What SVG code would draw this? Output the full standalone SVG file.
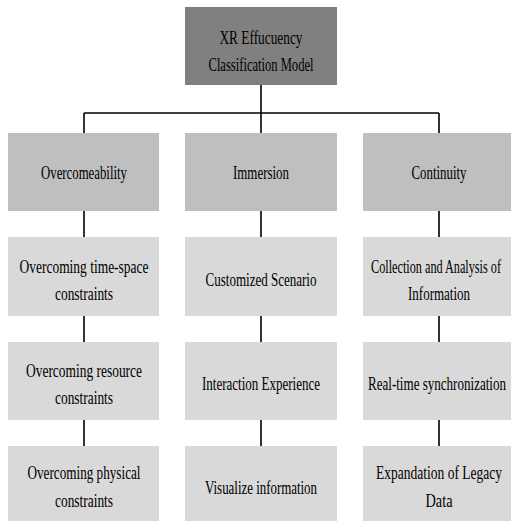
<svg xmlns="http://www.w3.org/2000/svg" width="511" height="521" viewBox="0 0 511 521">
  <style>
    .root { fill: #808080; }
    .cat { fill: #bfbfbf; }
    .item { fill: #d9d9d9; }
    text { font-family: "Liberation Serif", "Times New Roman", serif; font-size: 19.5px; fill: #000; text-anchor: middle; }
    .link { stroke: #000; stroke-width: 1.6; fill: none; }
  </style>
  <rect width="511" height="521" fill="#fff"/>

  <g id="connectors">
    <path class="link" d="M261 85 V133"/>
    <path class="link" d="M84 113 H439"/>
    <path class="link" d="M84 113 V133 M439 113 V133"/>
    <path class="link" d="M84 211 V237 M84 316 V342 M84 420 V446"/>
    <path class="link" d="M261 211 V237 M261 316 V342 M261 420 V446"/>
    <path class="link" d="M439 211 V237 M439 316 V342 M439 420 V446"/>
  </g>

  <g id="root">
    <rect class="root" x="185" y="7" width="152" height="78"/>
    <text x="261" y="44" textLength="83" lengthAdjust="spacingAndGlyphs">XR Effucuency</text>
    <text x="261" y="71" textLength="105" lengthAdjust="spacingAndGlyphs">Classification Model</text>
  </g>

  <g id="overcomeability">
    <rect class="cat" x="8" y="133" width="151" height="78"/>
    <text x="84" y="179" textLength="86" lengthAdjust="spacingAndGlyphs">Overcomeability</text>
  </g>
  <g id="immersion">
    <rect class="cat" x="185" y="133" width="152" height="78"/>
    <text x="261" y="179" textLength="56" lengthAdjust="spacingAndGlyphs">Immersion</text>
  </g>
  <g id="continuity">
    <rect class="cat" x="363" y="133" width="148" height="78"/>
    <text x="439" y="179" textLength="55" lengthAdjust="spacingAndGlyphs">Continuity</text>
  </g>

  <g id="time-space">
    <rect class="item" x="8" y="237" width="151" height="79"/>
    <text x="84" y="273" textLength="129" lengthAdjust="spacingAndGlyphs">Overcoming time-space</text>
    <text x="84" y="300" textLength="58" lengthAdjust="spacingAndGlyphs">constraints</text>
  </g>
  <g id="resource">
    <rect class="item" x="8" y="342" width="151" height="78"/>
    <text x="84" y="377" textLength="116" lengthAdjust="spacingAndGlyphs">Overcoming resource</text>
    <text x="84" y="404" textLength="58" lengthAdjust="spacingAndGlyphs">constraints</text>
  </g>
  <g id="physical">
    <rect class="item" x="8" y="446" width="151" height="80"/>
    <text x="84" y="479" textLength="113" lengthAdjust="spacingAndGlyphs">Overcoming physical</text>
    <text x="84" y="507" textLength="58" lengthAdjust="spacingAndGlyphs">constraints</text>
  </g>

  <g id="scenario">
    <rect class="item" x="185" y="237" width="152" height="79"/>
    <text x="261" y="286" textLength="111" lengthAdjust="spacingAndGlyphs">Customized Scenario</text>
  </g>
  <g id="interaction">
    <rect class="item" x="185" y="342" width="152" height="78"/>
    <text x="261" y="390" textLength="118" lengthAdjust="spacingAndGlyphs">Interaction Experience</text>
  </g>
  <g id="visualize">
    <rect class="item" x="185" y="446" width="152" height="80"/>
    <text x="261" y="494" textLength="112" lengthAdjust="spacingAndGlyphs">Visualize information</text>
  </g>

  <g id="collection">
    <rect class="item" x="363" y="237" width="148" height="79"/>
    <text x="436" y="273" textLength="130" lengthAdjust="spacingAndGlyphs">Collection and Analysis of</text>
    <text x="439" y="300" textLength="62" lengthAdjust="spacingAndGlyphs">Information</text>
  </g>
  <g id="sync">
    <rect class="item" x="363" y="342" width="148" height="78"/>
    <text x="437" y="390" textLength="138" lengthAdjust="spacingAndGlyphs">Real-time synchronization</text>
  </g>
  <g id="legacy">
    <rect class="item" x="363" y="446" width="148" height="80"/>
    <text x="439" y="479" textLength="126" lengthAdjust="spacingAndGlyphs">Expandation of Legacy</text>
    <text x="439" y="507" textLength="27" lengthAdjust="spacingAndGlyphs">Data</text>
  </g>
</svg>
